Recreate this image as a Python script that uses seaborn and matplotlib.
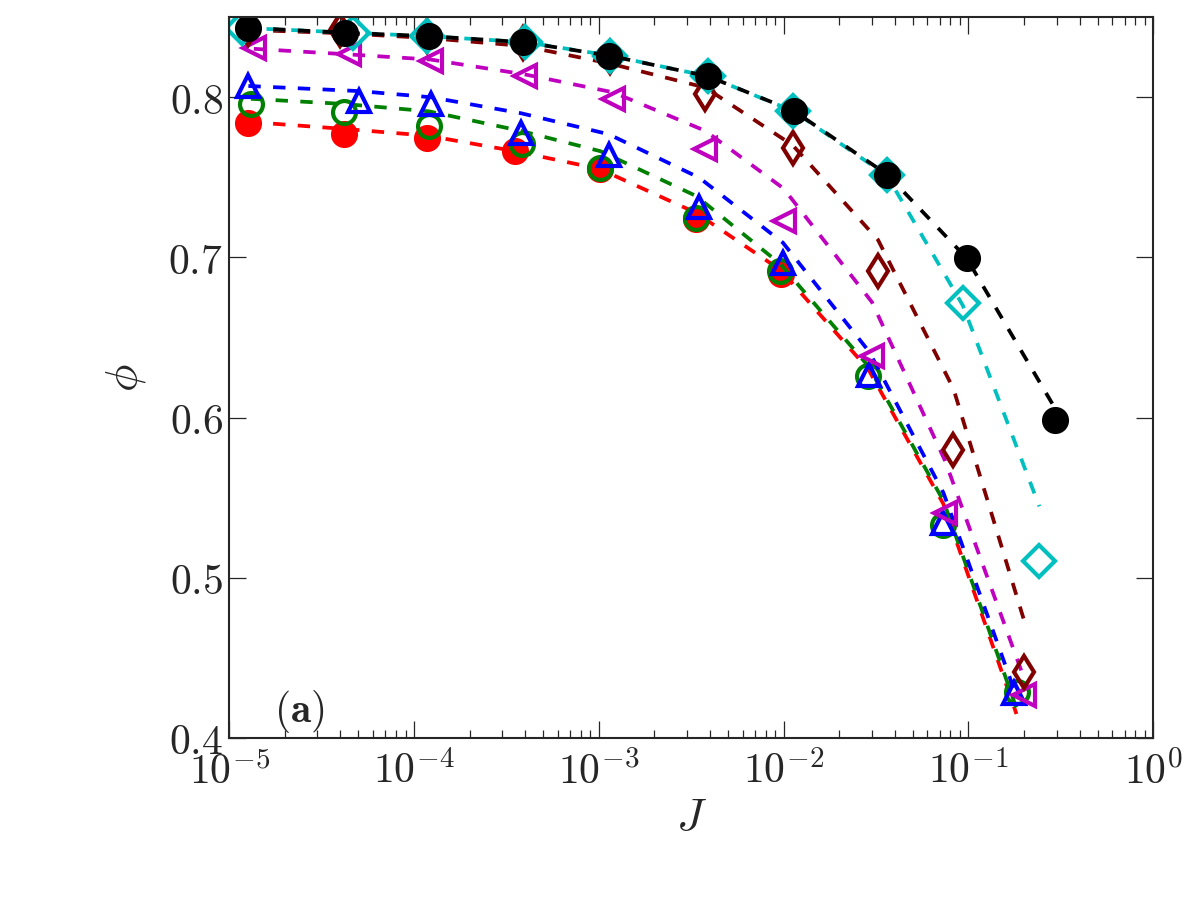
import matplotlib
matplotlib.use('Agg')
import matplotlib.pyplot as plt
import seaborn as sns

sns.set_style('ticks')
plt.rcParams['mathtext.fontset'] = 'cm'
plt.rcParams['font.family'] = ['DejaVu Serif']
plt.rcParams['lines.dashed_pattern'] = [3.3, 3.3]

# measured points (markers) and fitted curves (dashed) per series
red_J = [1.27e-5, 4.19e-5, 1.18e-4, 3.53e-4, 1.01e-3, 3.35e-3, 9.66e-3, 2.88e-2, 7.33e-2, 0.182]
red_phi = [0.7842, 0.7769, 0.7748, 0.7664, 0.7550, 0.7238, 0.6894]  # last points hidden / absent
red_fit = [0.7846, 0.7802, 0.7760, 0.7663, 0.7552, 0.7279, 0.6920, 0.6300, 0.5460, 0.4150]

green_J = [1.31e-5, 4.16e-5, 1.20e-4, 3.84e-4, 1.02e-3, 3.37e-3, 9.57e-3, 2.88e-2, 7.33e-2, 0.184]
green_phi = [0.7956, 0.7908, 0.7821, 0.7706, 0.7560, 0.7248, 0.6914, 0.6258, 0.5331, 0.4290]
green_fit = [0.7990, 0.7958, 0.7912, 0.7788, 0.7663, 0.7383, 0.6960, 0.6320, 0.5480, 0.4170]

blue_J = [1.27e-5, 5.07e-5, 1.23e-4, 3.79e-4, 1.13e-3, 3.49e-3, 9.91e-3, 2.91e-2, 7.33e-2, 0.177]
blue_phi = [0.8071, 0.7977, 0.7956, 0.7775, 0.7640, 0.7317, 0.6962, 0.6263, 0.5342, 0.4283]
blue_fit = [0.8070, 0.8038, 0.8000, 0.7900, 0.7769, 0.7498, 0.7092, 0.6410, 0.5530, 0.4300]

mag_J = [1.36e-5, 4.46e-5, 1.23e-4, 3.99e-4, 1.20e-3, 3.77e-3, 1.00e-2, 3.01e-2, 7.48e-2, 0.199]
mag_phi = [0.8304, 0.8267, 0.8225, 0.8131, 0.7988, 0.7675, 0.7227, 0.6383, 0.5404, 0.4269]
mag_fit = [0.8302, 0.8267, 0.8235, 0.8142, 0.8030, 0.7790, 0.7430, 0.6720, 0.5730, 0.4380]

maroon_J = [1.27e-5, 3.98e-5, 1.17e-4, 3.89e-4, 1.15e-3, 3.77e-3, 1.12e-2, 3.24e-2, 8.30e-2, 0.201]
maroon_phi = [0.8425, 0.8420, 0.8380, 0.8340, 0.8250, 0.8019, 0.7686, 0.6914, 0.5800, 0.4414]
maroon_fit = [0.8420, 0.8400, 0.8370, 0.8320, 0.8210, 0.8060, 0.7700, 0.7110, 0.6180, 0.4727]

cyan_J = [1.17e-5, 4.68e-5, 1.17e-4, 3.98e-4, 1.15e-3, 3.89e-3, 1.13e-2, 3.63e-2, 9.33e-2, 0.242]
cyan_phi = [0.8433, 0.8402, 0.8381, 0.8344, 0.8260, 0.8131, 0.7913, 0.7517, 0.6717, 0.5106]
cyan_fit = [0.8433, 0.8402, 0.8381, 0.8344, 0.8260, 0.8131, 0.7913, 0.7510, 0.6700, 0.5446]

black_J = [1.27e-5, 4.25e-5, 1.21e-4, 3.88e-4, 1.13e-3, 3.89e-3, 1.14e-2, 3.64e-2, 9.77e-2, 0.295]
black_phi = [0.8433, 0.8402, 0.8381, 0.8344, 0.8260, 0.8131, 0.7913, 0.7517, 0.6996, 0.5985]
black_fit = [0.8433, 0.8402, 0.8381, 0.8344, 0.8260, 0.8131, 0.7913, 0.7517, 0.6996, 0.6056]

xticks = [1e-5, 1e-4, 1e-3, 1e-2, 1e-1, 1e0]
xticklabels = [r'$10^{-5}$', r'$10^{-4}$', r'$10^{-3}$', r'$10^{-2}$', r'$10^{-1}$', r'$10^{0}$']
yticks = [0.4, 0.5, 0.6, 0.7, 0.8]
yticklabels = [r'$0.4$', r'$0.5$', r'$0.6$', r'$0.7$', r'$0.8$']

series = [
    ('red', 'o', True, red_J, red_phi, red_fit),
    ('green', 'o', False, green_J, green_phi, green_fit),
    ('blue', '^', False, blue_J, blue_phi, blue_fit),
    ('m', '<', False, mag_J, mag_phi, mag_fit),
    ('#800000', 'd', False, maroon_J, maroon_phi, maroon_fit),
    ('c', 'D', False, cyan_J, cyan_phi, cyan_fit),
    ('black', 'o', True, black_J, black_phi, black_fit),
]

fig = plt.figure(figsize=(8, 6), dpi=150)
ax = fig.add_axes([0.191, 0.18, 0.77, 0.801])
ax.set_xscale('log')

for color, marker, filled, J, phi, fit in series:
    sns.lineplot(x=J, y=fit, color=color, linestyle='--', linewidth=1.8,
                 estimator=None, sort=False, ax=ax)
    sns.lineplot(x=J[:len(phi)], y=phi, color=color, marker=marker, linestyle='none',
                 markersize=11, markerfacecolor=color if filled else 'none',
                 mec=color, mew=2, estimator=None, sort=False, ax=ax)

ax.set_xlim(1e-5, 1)
ax.set_ylim(0.4, 0.85)
ax.set_xticks(xticks)
ax.set_xticklabels(xticklabels)
ax.set_yticks(yticks)
ax.set_yticklabels(yticklabels)
ax.tick_params(which='both', direction='in', top=True, right=True, width=0.6)
ax.tick_params(which='major', length=8, labelsize=20)
ax.tick_params(axis='x', which='major', pad=6)
ax.tick_params(axis='y', which='major', pad=3)
ax.tick_params(which='minor', length=4)
for sp in ax.spines.values():
    sp.set_linewidth(1.0)

ax.set_xlabel(r'$J$', fontsize=22, labelpad=1)
ax.set_ylabel(r'$\phi$', fontsize=22, labelpad=10)
ax.text(0.048, 0.037, r'$\mathbf{(a)}$', transform=ax.transAxes, fontsize=20,
        ha='left', va='center')

fig.savefig('out.png', dpi=150)
